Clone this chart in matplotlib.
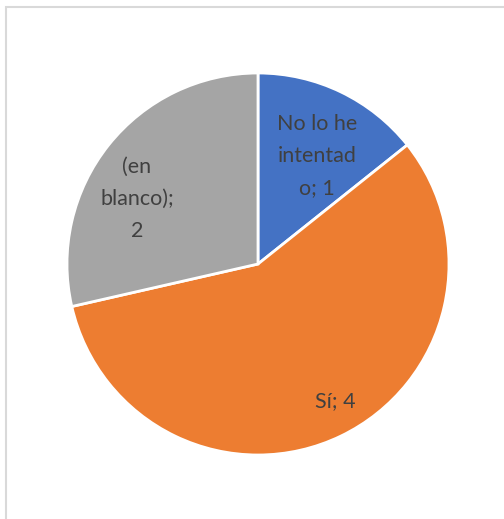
import matplotlib
matplotlib.use("Agg")
import matplotlib.pyplot as plt
from matplotlib.patches import Rectangle

# data
labels = ["No lo he\nintentad\no; 1", "Sí; 4", "(en\nblanco);\n2"]
values = [1, 4, 2]
colors = ["#4472c4", "#ed7d31", "#a5a5a5"]

# label positions (pixels from top-left of figure)
label_pos = [(317, 156), (335, 401), (137, 199)]

W, H = 504, 519
fig = plt.figure(figsize=(W / 100, H / 100), dpi=100)
ax = fig.add_axes([0, 0, 1, 1])

# chart frame
ax.add_patch(Rectangle((5.5, -10), W + 10, H - 6.5 + 10, fill=False,
                       edgecolor="#d9d9d9", linewidth=1.5))

ax.pie(values, colors=colors, startangle=90, counterclock=False,
       center=(258, H - 264), radius=191, frame=True,
       wedgeprops=dict(edgecolor="white", linewidth=2))
ax.set_xlim(0, W)
ax.set_ylim(0, H)
ax.set_aspect("equal")
ax.axis("off")

for text, (x, y) in zip(labels, label_pos):
    ax.text(x, H - y, text, ha="center", va="center", fontsize=15.5,
            family="Lato", color="#404040", linespacing=1.75)

fig.savefig("out.png", dpi=100)
